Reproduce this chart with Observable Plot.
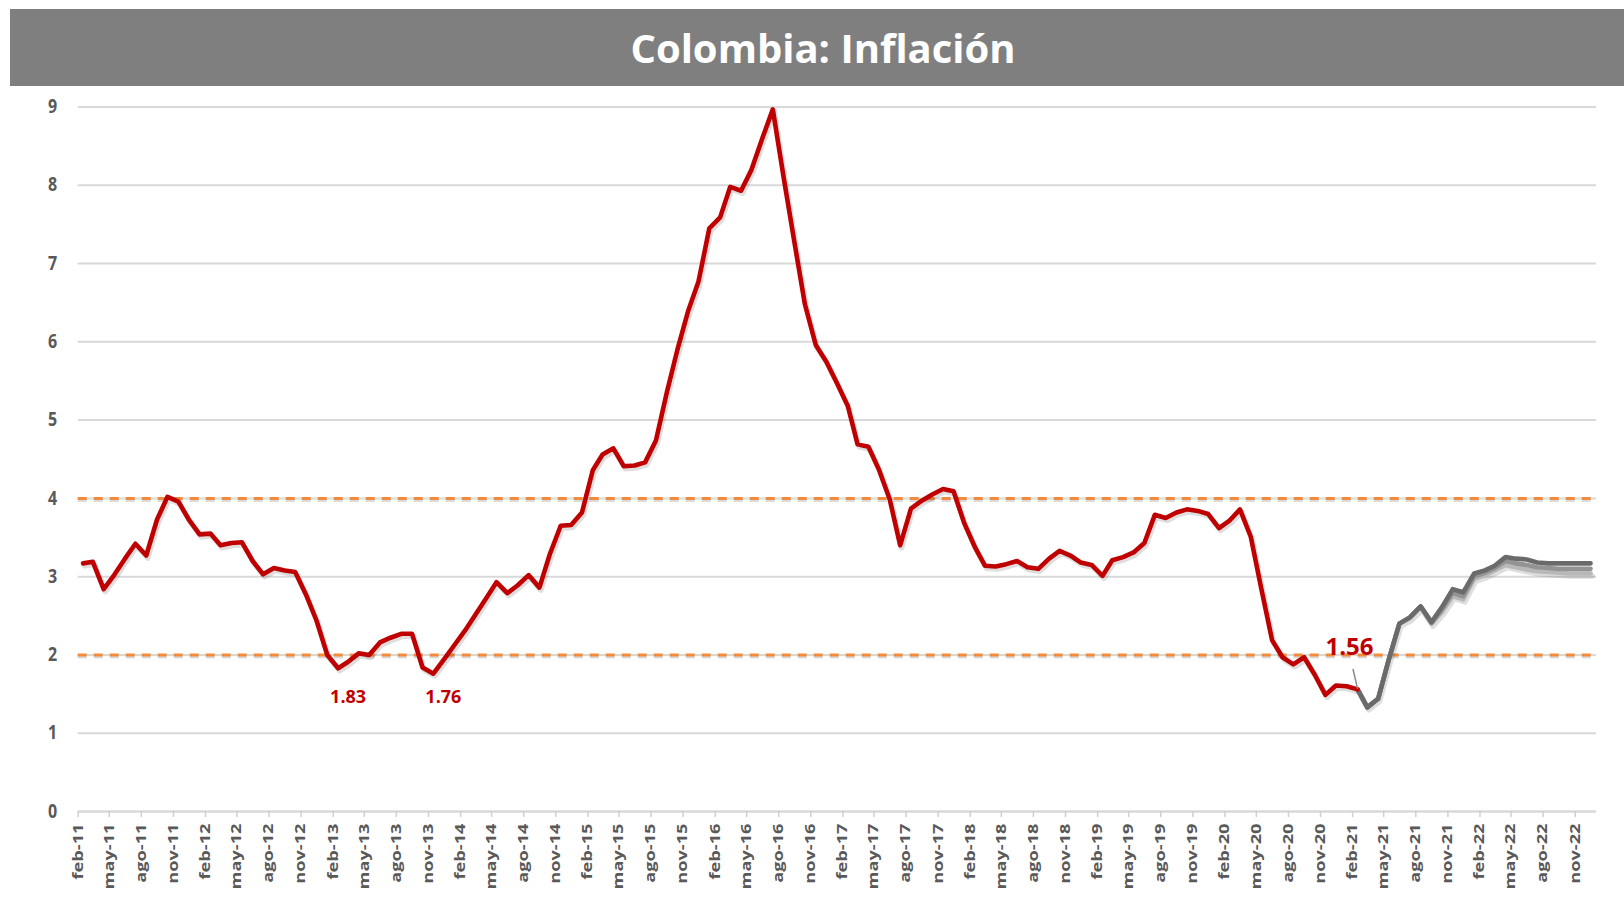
<!DOCTYPE html>
<html><head><meta charset="utf-8">
<script src="https://cdn.jsdelivr.net/npm/d3@7"></script>
<script src="https://cdn.jsdelivr.net/npm/@observablehq/plot@0.6"></script>
<style>
html,body{margin:0;padding:0;background:#fff;}
#title{margin:9px 0 0 10px;width:1614px;height:77px;background:#7f7f7f;color:#fff;font-family:"Open Sans",sans-serif;font-weight:700;font-size:40px;display:flex;align-items:center;justify-content:center;box-sizing:border-box;padding-left:12px;}
#chart svg{display:block;}
</style></head><body>
<div id="title">Colombia: Inflación</div>
<div id="chart"></div>
<script>
// Month abbreviations used in tick labels
const monthNames = ["ene","feb","mar","abr","may","jun","jul","ago","sep","oct","nov","dic"];
const firstTick = "2011-02";
const tickCount = 48;            // feb-11 ... nov-22, every 3 months
const axisEnd = "2023-01";
const yTicks = [0,1,2,3,4,5,6,7,8,9];
const gridValues = [1,2,3,4,5,6,7,8,9];
const targetBand = [2,4];

// Observed annual inflation, feb-11 ... feb-21
const actualStart = "2011-02";
const actualValues = [
  3.17,3.19,2.84,3.02,3.23,3.42,3.27,3.73,4.02,3.96,3.73,
  3.54,3.55,3.40,3.43,3.44,3.20,3.03,3.11,3.08,3.06,2.77,2.44,
  2.00,1.83,1.91,2.02,2.00,2.16,2.22,2.27,2.27,1.84,1.76,1.94,
  2.13,2.32,2.51,2.72,2.93,2.79,2.89,3.02,2.86,3.29,3.65,3.66,
  3.82,4.36,4.56,4.64,4.41,4.42,4.46,4.74,5.35,5.89,6.39,6.77,
  7.45,7.59,7.98,7.93,8.20,8.60,8.97,8.10,7.27,6.48,5.96,5.75,
  5.47,5.18,4.69,4.66,4.37,3.99,3.40,3.87,3.97,4.05,4.12,4.09,
  3.68,3.37,3.14,3.13,3.16,3.20,3.12,3.10,3.23,3.33,3.27,3.18,
  3.15,3.01,3.21,3.25,3.31,3.43,3.79,3.75,3.82,3.86,3.84,3.80,
  3.62,3.72,3.86,3.51,2.85,2.19,1.97,1.88,1.97,1.75,1.49,1.61,
  1.60,1.56
];

// Forecast paths, feb-21 ... dec-22
const forecastStart = "2021-02";
const forecastDark  = [1.56,1.33,1.44,1.93,2.40,2.48,2.62,2.42,2.61,2.84,2.80,3.04,3.08,3.14,3.25,3.23,3.22,3.18,3.17,3.17,3.17,3.17,3.17];
const forecastMid   = [1.56,1.33,1.44,1.93,2.40,2.48,2.62,2.41,2.58,2.79,2.75,3.00,3.05,3.11,3.20,3.17,3.15,3.12,3.11,3.10,3.10,3.10,3.10];
const forecastLight = [1.56,1.33,1.44,1.93,2.40,2.47,2.61,2.40,2.55,2.75,2.71,2.97,3.02,3.08,3.15,3.12,3.09,3.07,3.06,3.05,3.04,3.04,3.04];

// Callouts
const lowCallouts = [{date:"2013-02", value:1.83, label:"1.83"}, {date:"2013-11", value:1.76, label:"1.76"}];
const lastCallout = [{date:"2021-02", value:1.56, label:"1.56"}];
const leader = [{from:"2021-02-02", fromValue:1.82, to:"2021-02-15", toValue:1.57}];

const parse = d3.utcParse("%Y-%m");
const parseDay = d3.utcParse("%Y-%m-%d");
// monthly observations are placed mid-month
const midMonth = s => d3.utcDay.offset(parse(s), 14);
const rows = (start, values) => values.map((v,i) => ({date: d3.utcDay.offset(d3.utcMonth.offset(parse(start), i), 14), value: v}));
const actual = rows(actualStart, actualValues);
const fDark = rows(forecastStart, forecastDark);
const fMid = rows(forecastStart, forecastMid);
const fLight = rows(forecastStart, forecastLight);
const lows = lowCallouts.map(d => ({...d, date: midMonth(d.date)}));
const last = lastCallout.map(d => ({...d, date: midMonth(d.date)}));
const leaderRows = leader.map(d => ({x1: parseDay(d.from), y1: d.fromValue, x2: parseDay(d.to), y2: d.toValue}));
const xTicks = d3.range(tickCount).map(i => d3.utcMonth.offset(parse(firstTick), 3*i));
const fmt = d => `${monthNames[d.getUTCMonth()]}-${String(d.getUTCFullYear()).slice(2)}`;

const lineOpts = {x:"date", y:"value", strokeWidth:4.6, strokeLinejoin:"round", strokeLinecap:"round"};
const shadowOpts = {...lineOpts, stroke:"#000", strokeOpacity:0.13, strokeWidth:5.5, dx:1.5, dy:2.5};

const plot = Plot.plot({
  width: 1624,
  height: 831,
  marginTop: 20.5,
  marginBottom: 106,
  marginLeft: 77.7,
  marginRight: 28,
  style: {fontFamily: "'Open Sans', sans-serif", background: "#fff"},
  x: {type: "utc", domain: [parse(firstTick), parse(axisEnd)]},
  y: {domain: [0, 9]},
  marks: [
    Plot.ruleY(gridValues, {stroke:"#d9d9d9", strokeWidth:2}),
    Plot.ruleY([0], {stroke:"#d9d9d9", strokeWidth:2.5}),
    Plot.ruleY(targetBand, {stroke:"#888", strokeOpacity:0.3, strokeWidth:3, strokeDasharray:"9,7", dy:2}),
    Plot.ruleY(targetBand, {stroke:"#F28C3C", strokeWidth:3, strokeDasharray:"9,7"}),
    Plot.line(fLight, shadowOpts),
    Plot.line(actual, shadowOpts),
    Plot.line(fLight, {...lineOpts, stroke:"#b8b8b8"}),
    Plot.line(fMid, {...lineOpts, stroke:"#939393"}),
    Plot.line(fDark, {...lineOpts, stroke:"#6a6a6a"}),
    Plot.line(actual, {...lineOpts, stroke:"#C00000"}),
    Plot.link(leaderRows, {x1:"x1", y1:"y1", x2:"x2", y2:"y2", stroke:"#8a8a8a", strokeWidth:1.5}),
    Plot.text(lows.slice(0,1), {x:"date", y:"value", text:"label", fill:"#C00000", fontSize:18, fontWeight:"bold", dx:10, dy:29}),
    Plot.text(lows.slice(1,2), {x:"date", y:"value", text:"label", fill:"#C00000", fontSize:18, fontWeight:"bold", dx:10, dy:24}),
    Plot.text(last, {x:"date", y:"value", text:"label", fill:"#C00000", fontSize:24, fontWeight:"bold", dx:-8, dy:-42}),
    Plot.axisX(xTicks, {tickFormat: fmt, tickRotate: -90, tickSize: 6, tickPadding: 6, stroke:"#d0d0d0", strokeWidth:1.5, fill:"#595959", fontSize:13.5, fontWeight:"bold", label:null}),
    Plot.axisY(yTicks, {tickFormat: d3.format("d"), tickSize:0, tickPadding:21, fill:"#595959", fontSize:16, fontWeight:"bold", label:null})
  ]
});
// stretch x tick labels along their reading direction (as in the source image)
plot.querySelectorAll('g[aria-label="x-axis tick label"] text').forEach(t => {
  const tr = t.getAttribute("transform") || "";
  t.setAttribute("transform", tr + " scale(1.35,1)");
});
plot.querySelectorAll('g[aria-label="y-axis tick label"] text').forEach(t => {
  const tr = t.getAttribute("transform") || "";
  t.setAttribute("transform", tr + " scale(1,1.2)");
});
document.getElementById("chart").appendChild(plot);
</script>
</body></html>
